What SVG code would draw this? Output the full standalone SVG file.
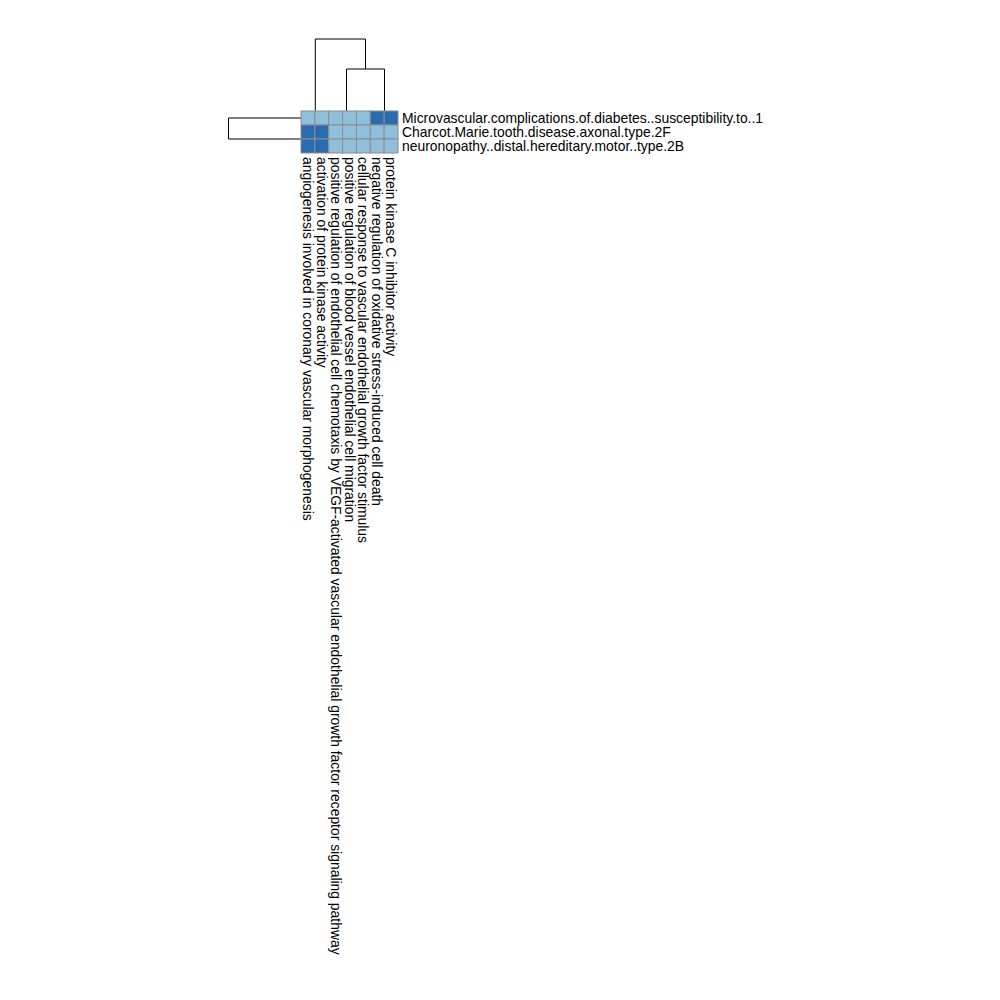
<svg xmlns="http://www.w3.org/2000/svg" width="1000" height="1000" viewBox="0 0 1000 1000">
<style>
.bg{fill:#ffffff}
.lo{fill:#90bfdc;stroke:#8c8c8c;stroke-width:1}
.hi{fill:#2b6bb1;stroke:#8c8c8c;stroke-width:1}
.dend{fill:none;stroke:#000000;stroke-width:1}
text{font-family:"Liberation Sans",Arial,sans-serif;font-size:13.9px;fill:#000000}
</style>
<rect class="bg" x="0" y="0" width="1000" height="1000"/>
<g id="connectors">
<path class="dend" d="M315.3,111 V39 H365.5 V69 M346.5,111 V69 H384.5 V111"/>
<path class="dend" d="M301,118 H228.5 V139 H301"/>
</g>
<g id="heatmap">
<g id="row1">
<rect class="lo" x="301" y="111" width="13.86" height="14"/>
<rect class="lo" x="314.86" y="111" width="13.86" height="14"/>
<rect class="lo" x="328.71" y="111" width="13.86" height="14"/>
<rect class="lo" x="342.57" y="111" width="13.86" height="14"/>
<rect class="lo" x="356.43" y="111" width="13.86" height="14"/>
<rect class="hi" x="370.29" y="111" width="13.86" height="14"/>
<rect class="hi" x="384.14" y="111" width="13.86" height="14"/>
</g>
<g id="row2">
<rect class="hi" x="301" y="125" width="13.86" height="14"/>
<rect class="hi" x="314.86" y="125" width="13.86" height="14"/>
<rect class="lo" x="328.71" y="125" width="13.86" height="14"/>
<rect class="lo" x="342.57" y="125" width="13.86" height="14"/>
<rect class="lo" x="356.43" y="125" width="13.86" height="14"/>
<rect class="lo" x="370.29" y="125" width="13.86" height="14"/>
<rect class="lo" x="384.14" y="125" width="13.86" height="14"/>
</g>
<g id="row3">
<rect class="hi" x="301" y="139" width="13.86" height="14"/>
<rect class="hi" x="314.86" y="139" width="13.86" height="14"/>
<rect class="lo" x="328.71" y="139" width="13.86" height="14"/>
<rect class="lo" x="342.57" y="139" width="13.86" height="14"/>
<rect class="lo" x="356.43" y="139" width="13.86" height="14"/>
<rect class="lo" x="370.29" y="139" width="13.86" height="14"/>
<rect class="lo" x="384.14" y="139" width="13.86" height="14"/>
</g>
</g>
<g id="row-labels">
<text x="402" y="123">Microvascular.complications.of.diabetes..susceptibility.to..1</text>
<text x="402" y="137">Charcot.Marie.tooth.disease.axonal.type.2F</text>
<text x="402" y="151">neuronopathy..distal.hereditary.motor..type.2B</text>
</g>
<g id="col-labels">
<text transform="translate(303.0,157) rotate(90)">angiogenesis involved in coronary vascular morphogenesis</text>
<text transform="translate(316.9,157) rotate(90)">activation of protein kinase activity</text>
<text transform="translate(330.7,157) rotate(90)">positive regulation of endothelial cell chemotaxis by VEGF-activated vascular endothelial growth factor receptor signaling pathway</text>
<text transform="translate(344.6,157) rotate(90)">positive regulation of blood vessel endothelial cell migration</text>
<text transform="translate(358.4,157) rotate(90)">cellular response to vascular endothelial growth factor stimulus</text>
<text transform="translate(372.3,157) rotate(90)">negative regulation of oxidative stress-induced cell death</text>
<text transform="translate(386.2,157) rotate(90)">protein kinase C inhibitor activity</text>
</g>
</svg>
